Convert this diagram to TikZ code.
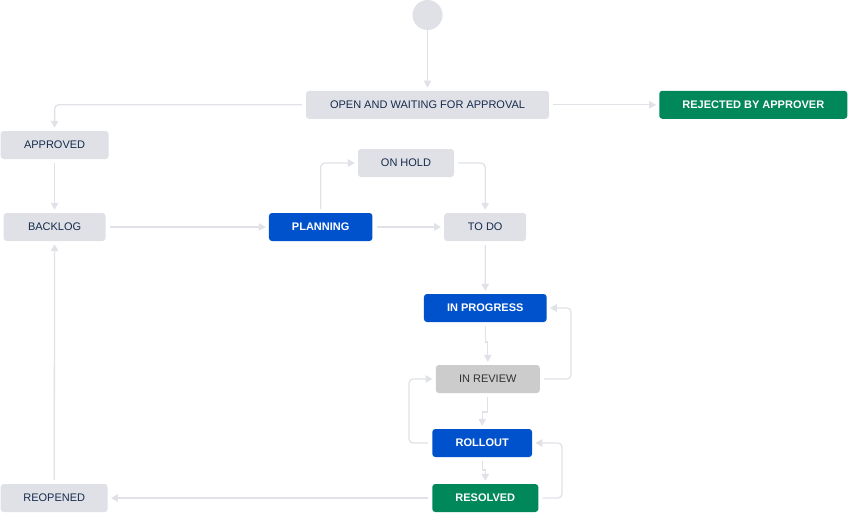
\documentclass[tikz,border=0pt]{standalone}
\usepackage{fontspec}
\setmainfont{Liberation Sans}
\usetikzlibrary{arrows.meta}
\definecolor{boxgray}{HTML}{DFE1E6}
\definecolor{linegray}{HTML}{E1E2E7}
\definecolor{reviewgray}{HTML}{CCCCCC}
\definecolor{navytext}{HTML}{172B4D}
\definecolor{jirablue}{HTML}{0052CC}
\definecolor{jiragreen}{HTML}{00875A}

\begin{document}
\begin{tikzpicture}[x=1pt, y=-1pt,
		state/.style={rectangle, rounded corners=3pt, fill=boxgray, text=navytext, minimum height=28pt, inner sep=0pt, font=\fontsize{11}{13}\selectfont},
		blue state/.style={state, fill=jirablue, text=white, font=\fontsize{11}{13}\selectfont\bfseries},
		green state/.style={blue state, fill=jiragreen},
		review state/.style={state, fill=reviewgray, text=black!80},
		flow/.style={draw=linegray, line width=1.3pt, rounded corners=4pt, shorten <=4pt, shorten >=3pt, -{Triangle[length=7pt,width=7.5pt]}},
		hv/.style={to path={-| (\tikztotarget)}},
		vh/.style={to path={|- (\tikztotarget)}}]
			\useasboundingbox (0,0) rectangle (848,512);
			\node[circle, fill=boxgray, minimum size=30pt, inner sep=0pt] (init) at (427.5,15) {};
			\node[state, minimum width=243pt] (open) at (427.5,104.8) {OPEN AND WAITING FOR APPROVAL};
			\node[green state, minimum width=188pt] (rejected) at (753.3,104.8) {REJECTED BY APPROVER};
			\node[state, minimum width=108pt] (approved) at (54.6,145) {APPROVED};
			\node[state, minimum width=96pt] (hold) at (406,163) {ON HOLD};
			\node[state, minimum width=102pt] (backlog) at (54.6,227) {BACKLOG};
			\node[blue state, minimum width=103.5pt] (planning) at (320.7,227) {PLANNING};
			\node[state, minimum width=82pt] (todo) at (485.2,227) {TO DO};
			\node[blue state, minimum width=122.7pt] (progress) at (485.3,308) {IN PROGRESS};
			\node[review state, minimum width=104pt] (review) at (487.8,379) {IN REVIEW};
			\node[blue state, minimum width=99.7pt] (rollout) at (482.2,443) {ROLLOUT};
			\node[green state, minimum width=106pt] (resolved) at (485.3,498) {RESOLVED};
			\node[state, minimum width=107pt] (reopened) at (54.2,498) {REOPENED};
			\path[every edge/.style={flow}]
			(init) edge[shorten <=0pt] (open)
			(open) edge (rejected) edge[hv] (approved)
			(approved) edge (backlog)
			(backlog) edge (planning)
			(planning) edge (todo) edge[vh] (hold)
			(hold) edge[hv] (todo)
			(todo) edge (progress)
			(resolved) edge (reopened)
			(reopened) edge (backlog);
			\draw[flow, sharp corners] (progress) -- ++(0,34) -| (review);
			\draw[flow, sharp corners] (review) -- ++(0,33) -| (rollout);
			\draw[flow, sharp corners] (rollout) -- ++(0,27) -| (resolved);
			\draw[flow] (review) -- ++(83.2,0) |- (progress);
			\draw[flow] (rollout) -- ++(-73.2,0) |- (review);
			\draw[flow] (resolved) -- ++(76.7,0) |- (rollout);
		\end{tikzpicture}
\end{document}
